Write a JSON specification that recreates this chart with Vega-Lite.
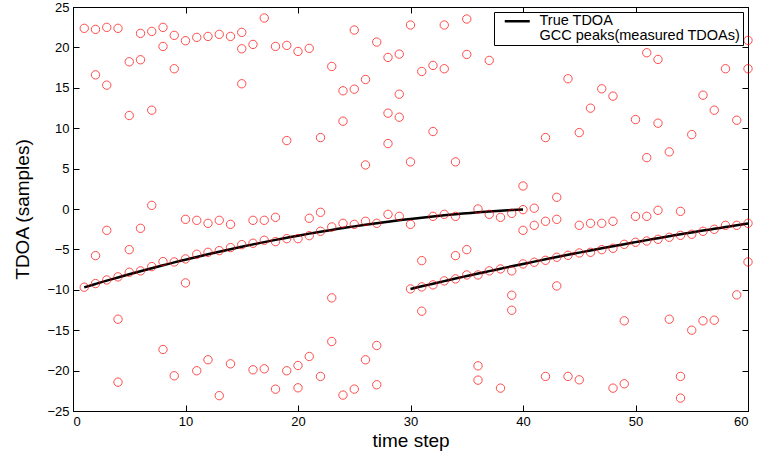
{
  "$schema": "https://vega.github.io/schema/vega-lite/v6.json",
  "width": 675,
  "height": 404,
  "autosize": "none",
  "padding": {"left": 73, "top": 7, "right": 9, "bottom": 45},
  "background": "white",
  "config": {
    "font": "Liberation Sans",
    "view": {"stroke": "black", "strokeWidth": 1},
    "axis": {
      "grid": false,
      "domainColor": "black",
      "tickColor": "black",
      "tickSize": -6,
      "labelColor": "black",
      "labelFont": "Liberation Sans",
      "labelFontSize": 13,
      "titleFont": "Liberation Sans",
      "titleFontWeight": "normal",
      "titleColor": "black"
    }
  },
  "datasets": {
    "truth": [
      {"t": 1, "tdoa": -9.70, "seg": 1}, {"t": 2, "tdoa": -9.28, "seg": 1}, {"t": 3, "tdoa": -8.87, "seg": 1},
      {"t": 4, "tdoa": -8.48, "seg": 1}, {"t": 5, "tdoa": -8.08, "seg": 1}, {"t": 6, "tdoa": -7.70, "seg": 1},
      {"t": 7, "tdoa": -7.33, "seg": 1}, {"t": 8, "tdoa": -6.97, "seg": 1}, {"t": 9, "tdoa": -6.61, "seg": 1},
      {"t": 10, "tdoa": -6.27, "seg": 1}, {"t": 11, "tdoa": -5.93, "seg": 1}, {"t": 12, "tdoa": -5.60, "seg": 1},
      {"t": 13, "tdoa": -5.28, "seg": 1}, {"t": 14, "tdoa": -4.97, "seg": 1}, {"t": 15, "tdoa": -4.67, "seg": 1},
      {"t": 16, "tdoa": -4.38, "seg": 1}, {"t": 17, "tdoa": -4.10, "seg": 1}, {"t": 18, "tdoa": -3.82, "seg": 1},
      {"t": 19, "tdoa": -3.56, "seg": 1}, {"t": 20, "tdoa": -3.30, "seg": 1}, {"t": 21, "tdoa": -3.05, "seg": 1},
      {"t": 22, "tdoa": -2.81, "seg": 1}, {"t": 23, "tdoa": -2.59, "seg": 1}, {"t": 24, "tdoa": -2.36, "seg": 1},
      {"t": 25, "tdoa": -2.15, "seg": 1}, {"t": 26, "tdoa": -1.95, "seg": 1}, {"t": 27, "tdoa": -1.76, "seg": 1},
      {"t": 28, "tdoa": -1.57, "seg": 1}, {"t": 29, "tdoa": -1.40, "seg": 1}, {"t": 30, "tdoa": -1.23, "seg": 1},
      {"t": 31, "tdoa": -1.07, "seg": 1}, {"t": 32, "tdoa": -0.92, "seg": 1}, {"t": 33, "tdoa": -0.78, "seg": 1},
      {"t": 34, "tdoa": -0.65, "seg": 1}, {"t": 35, "tdoa": -0.53, "seg": 1}, {"t": 36, "tdoa": -0.41, "seg": 1},
      {"t": 37, "tdoa": -0.31, "seg": 1}, {"t": 38, "tdoa": -0.21, "seg": 1}, {"t": 39, "tdoa": -0.13, "seg": 1},
      {"t": 40, "tdoa": -0.05, "seg": 1},
      {"t": 30, "tdoa": -9.90, "seg": 2}, {"t": 31, "tdoa": -9.57, "seg": 2}, {"t": 32, "tdoa": -9.25, "seg": 2},
      {"t": 33, "tdoa": -8.93, "seg": 2}, {"t": 34, "tdoa": -8.61, "seg": 2}, {"t": 35, "tdoa": -8.30, "seg": 2},
      {"t": 36, "tdoa": -7.99, "seg": 2}, {"t": 37, "tdoa": -7.69, "seg": 2}, {"t": 38, "tdoa": -7.39, "seg": 2},
      {"t": 39, "tdoa": -7.09, "seg": 2}, {"t": 40, "tdoa": -6.80, "seg": 2}, {"t": 41, "tdoa": -6.51, "seg": 2},
      {"t": 42, "tdoa": -6.23, "seg": 2}, {"t": 43, "tdoa": -5.95, "seg": 2}, {"t": 44, "tdoa": -5.67, "seg": 2},
      {"t": 45, "tdoa": -5.40, "seg": 2}, {"t": 46, "tdoa": -5.13, "seg": 2}, {"t": 47, "tdoa": -4.87, "seg": 2},
      {"t": 48, "tdoa": -4.61, "seg": 2}, {"t": 49, "tdoa": -4.35, "seg": 2}, {"t": 50, "tdoa": -4.10, "seg": 2},
      {"t": 51, "tdoa": -3.85, "seg": 2}, {"t": 52, "tdoa": -3.61, "seg": 2}, {"t": 53, "tdoa": -3.37, "seg": 2},
      {"t": 54, "tdoa": -3.13, "seg": 2}, {"t": 55, "tdoa": -2.90, "seg": 2}, {"t": 56, "tdoa": -2.67, "seg": 2},
      {"t": 57, "tdoa": -2.45, "seg": 2}, {"t": 58, "tdoa": -2.23, "seg": 2}, {"t": 59, "tdoa": -2.01, "seg": 2},
      {"t": 60, "tdoa": -1.80, "seg": 2}
    ],
    "peaks": [
      {"t": 1, "tdoa": 22.36}, {"t": 1, "tdoa": -9.68},
      {"t": 2, "tdoa": 22.23}, {"t": 2, "tdoa": 16.6}, {"t": 2, "tdoa": -5.77}, {"t": 2, "tdoa": -9.23},
      {"t": 3, "tdoa": 22.48}, {"t": 3, "tdoa": 15.33}, {"t": 3, "tdoa": -2.64}, {"t": 3, "tdoa": -8.78},
      {"t": 4, "tdoa": 22.36}, {"t": 4, "tdoa": -8.4}, {"t": 4, "tdoa": -13.64}, {"t": 4, "tdoa": -21.43},
      {"t": 5, "tdoa": 18.22}, {"t": 5, "tdoa": 11.57}, {"t": 5, "tdoa": -5.03}, {"t": 5, "tdoa": -7.83},
      {"t": 6, "tdoa": 21.74}, {"t": 6, "tdoa": 18.47}, {"t": 6, "tdoa": -2.39}, {"t": 6, "tdoa": -7.66},
      {"t": 7, "tdoa": 21.98}, {"t": 7, "tdoa": 12.23}, {"t": 7, "tdoa": 0.45}, {"t": 7, "tdoa": -7.13},
      {"t": 8, "tdoa": 22.48}, {"t": 8, "tdoa": 20.12}, {"t": 8, "tdoa": -6.51}, {"t": 8, "tdoa": -17.39},
      {"t": 9, "tdoa": 21.49}, {"t": 9, "tdoa": 17.36}, {"t": 9, "tdoa": -6.55}, {"t": 9, "tdoa": -20.64},
      {"t": 10, "tdoa": 20.83}, {"t": 10, "tdoa": -1.28}, {"t": 10, "tdoa": -6.18}, {"t": 10, "tdoa": -9.15},
      {"t": 11, "tdoa": 21.24}, {"t": 11, "tdoa": -1.4}, {"t": 11, "tdoa": -5.6}, {"t": 11, "tdoa": -20.02},
      {"t": 12, "tdoa": 21.36}, {"t": 12, "tdoa": -1.77}, {"t": 12, "tdoa": -5.36}, {"t": 12, "tdoa": -18.66},
      {"t": 13, "tdoa": 21.61}, {"t": 13, "tdoa": -1.4}, {"t": 13, "tdoa": -5.15}, {"t": 13, "tdoa": -23.1},
      {"t": 14, "tdoa": 21.36}, {"t": 14, "tdoa": -1.9}, {"t": 14, "tdoa": -4.78}, {"t": 14, "tdoa": -19.16},
      {"t": 15, "tdoa": 21.86}, {"t": 15, "tdoa": 19.83}, {"t": 15, "tdoa": 15.5}, {"t": 15, "tdoa": -4.41},
      {"t": 16, "tdoa": 20.37}, {"t": 16, "tdoa": -1.4}, {"t": 16, "tdoa": -4.24}, {"t": 16, "tdoa": -19.9},
      {"t": 17, "tdoa": 23.64}, {"t": 17, "tdoa": -1.4}, {"t": 17, "tdoa": -3.87}, {"t": 17, "tdoa": -19.78},
      {"t": 18, "tdoa": 20.12}, {"t": 18, "tdoa": -1.03}, {"t": 18, "tdoa": -4.04}, {"t": 18, "tdoa": -22.3},
      {"t": 19, "tdoa": 20.25}, {"t": 19, "tdoa": 8.47}, {"t": 19, "tdoa": -3.67}, {"t": 19, "tdoa": -20.02},
      {"t": 20, "tdoa": 19.5}, {"t": 20, "tdoa": -3.67}, {"t": 20, "tdoa": -19.37}, {"t": 20, "tdoa": -22.13},
      {"t": 21, "tdoa": 19.88}, {"t": 21, "tdoa": -1.15}, {"t": 21, "tdoa": -3.3}, {"t": 21, "tdoa": -18.25},
      {"t": 22, "tdoa": 8.84}, {"t": 22, "tdoa": -0.41}, {"t": 22, "tdoa": -2.76}, {"t": 22, "tdoa": -20.72},
      {"t": 23, "tdoa": 17.64}, {"t": 23, "tdoa": -2.22}, {"t": 23, "tdoa": -11.0}, {"t": 23, "tdoa": -16.4},
      {"t": 24, "tdoa": 14.63}, {"t": 24, "tdoa": 10.87}, {"t": 24, "tdoa": -1.77}, {"t": 24, "tdoa": -23.03},
      {"t": 25, "tdoa": 22.15}, {"t": 25, "tdoa": 14.83}, {"t": 25, "tdoa": -1.9}, {"t": 25, "tdoa": -22.29},
      {"t": 26, "tdoa": 16.03}, {"t": 26, "tdoa": 5.45}, {"t": 26, "tdoa": -1.52}, {"t": 26, "tdoa": -18.66},
      {"t": 27, "tdoa": 20.66}, {"t": 27, "tdoa": -1.77}, {"t": 27, "tdoa": -16.89}, {"t": 27, "tdoa": -21.75},
      {"t": 28, "tdoa": 18.76}, {"t": 28, "tdoa": 11.86}, {"t": 28, "tdoa": 8.1}, {"t": 28, "tdoa": -0.66},
      {"t": 29, "tdoa": 19.17}, {"t": 29, "tdoa": 14.21}, {"t": 29, "tdoa": 11.36}, {"t": 29, "tdoa": -0.91},
      {"t": 30, "tdoa": 22.77}, {"t": 30, "tdoa": 5.83}, {"t": 30, "tdoa": -1.9}, {"t": 30, "tdoa": -9.89},
      {"t": 31, "tdoa": 17.02}, {"t": 31, "tdoa": -6.39}, {"t": 31, "tdoa": -9.64}, {"t": 31, "tdoa": -12.65},
      {"t": 32, "tdoa": 17.77}, {"t": 32, "tdoa": 9.59}, {"t": 32, "tdoa": -0.91}, {"t": 32, "tdoa": -9.39},
      {"t": 33, "tdoa": 22.77}, {"t": 33, "tdoa": 17.36}, {"t": 33, "tdoa": -0.66}, {"t": 33, "tdoa": -8.9},
      {"t": 34, "tdoa": 5.83}, {"t": 34, "tdoa": -0.91}, {"t": 34, "tdoa": -5.77}, {"t": 34, "tdoa": -8.65},
      {"t": 35, "tdoa": 23.51}, {"t": 35, "tdoa": 19.13}, {"t": 35, "tdoa": -5.03}, {"t": 35, "tdoa": -8.16},
      {"t": 36, "tdoa": 0.0}, {"t": 36, "tdoa": -8.16}, {"t": 36, "tdoa": -19.41}, {"t": 36, "tdoa": -21.18},
      {"t": 37, "tdoa": 18.39}, {"t": 37, "tdoa": -0.66}, {"t": 37, "tdoa": -7.66},
      {"t": 38, "tdoa": -1.03}, {"t": 38, "tdoa": -7.42}, {"t": 38, "tdoa": -22.17},
      {"t": 39, "tdoa": -0.54}, {"t": 39, "tdoa": -7.66}, {"t": 39, "tdoa": -10.67}, {"t": 39, "tdoa": -12.53},
      {"t": 40, "tdoa": 2.85}, {"t": 40, "tdoa": -0.08}, {"t": 40, "tdoa": -2.64}, {"t": 40, "tdoa": -6.8},
      {"t": 41, "tdoa": 0.1}, {"t": 41, "tdoa": -2.02}, {"t": 41, "tdoa": -6.59},
      {"t": 42, "tdoa": 8.84}, {"t": 42, "tdoa": -1.52}, {"t": 42, "tdoa": -6.35}, {"t": 42, "tdoa": -20.72},
      {"t": 43, "tdoa": 1.45}, {"t": 43, "tdoa": -1.28}, {"t": 43, "tdoa": -5.97}, {"t": 43, "tdoa": -9.52},
      {"t": 44, "tdoa": 20.95}, {"t": 44, "tdoa": 16.12}, {"t": 44, "tdoa": -5.73}, {"t": 44, "tdoa": -20.72},
      {"t": 45, "tdoa": 9.46}, {"t": 45, "tdoa": -2.02}, {"t": 45, "tdoa": -5.44}, {"t": 45, "tdoa": -21.14},
      {"t": 46, "tdoa": 12.48}, {"t": 46, "tdoa": -1.77}, {"t": 46, "tdoa": -5.36},
      {"t": 47, "tdoa": 14.88}, {"t": 47, "tdoa": -1.77}, {"t": 47, "tdoa": -5.03},
      {"t": 48, "tdoa": 13.97}, {"t": 48, "tdoa": -1.52}, {"t": 48, "tdoa": -4.86}, {"t": 48, "tdoa": -22.17},
      {"t": 49, "tdoa": -4.37}, {"t": 49, "tdoa": -13.84}, {"t": 49, "tdoa": -21.63},
      {"t": 50, "tdoa": 11.07}, {"t": 50, "tdoa": -0.91}, {"t": 50, "tdoa": -4.12},
      {"t": 51, "tdoa": 19.34}, {"t": 51, "tdoa": 6.36}, {"t": 51, "tdoa": -0.91}, {"t": 51, "tdoa": -3.96},
      {"t": 52, "tdoa": 18.51}, {"t": 52, "tdoa": 10.62}, {"t": 52, "tdoa": -0.16}, {"t": 52, "tdoa": -3.75},
      {"t": 53, "tdoa": 20.74}, {"t": 53, "tdoa": 7.07}, {"t": 53, "tdoa": -3.5}, {"t": 53, "tdoa": -13.64},
      {"t": 54, "tdoa": -0.29}, {"t": 54, "tdoa": -3.26}, {"t": 54, "tdoa": -20.72}, {"t": 54, "tdoa": -23.4},
      {"t": 55, "tdoa": 9.21}, {"t": 55, "tdoa": -3.13}, {"t": 55, "tdoa": -15.0},
      {"t": 56, "tdoa": 14.09}, {"t": 56, "tdoa": -2.76}, {"t": 56, "tdoa": -13.84},
      {"t": 57, "tdoa": 12.23}, {"t": 57, "tdoa": -2.51}, {"t": 57, "tdoa": -13.76},
      {"t": 58, "tdoa": 17.36}, {"t": 58, "tdoa": -2.02},
      {"t": 59, "tdoa": 10.99}, {"t": 59, "tdoa": -2.02}, {"t": 59, "tdoa": -10.63},
      {"t": 60, "tdoa": 20.87}, {"t": 60, "tdoa": 17.36}, {"t": 60, "tdoa": -1.77}, {"t": 60, "tdoa": -6.55}
    ]
  },
  "resolve": {"axis": {"x": "independent", "y": "independent"}},
  "layer": [
    {
      "data": {"name": "truth"},
      "mark": {"type": "line", "strokeWidth": 2.5, "interpolate": "monotone"},
      "encoding": {
        "x": {"field": "t", "type": "quantitative", "scale": {"domain": [0, 60], "nice": false},
              "axis": {"orient": "bottom", "values": [0, 10, 20, 30, 40, 50, 60], "title": "time step", "titleFontSize": 19, "labelPadding": 10, "titleY": 35, "titleBaseline": "alphabetic"}},
        "y": {"field": "tdoa", "type": "quantitative", "scale": {"domain": [-25, 25], "nice": false},
              "axis": {"orient": "left", "values": [-25, -20, -15, -10, -5, 0, 5, 10, 15, 20, 25], "title": "TDOA (samples)", "titleFontSize": 19, "labelPadding": 10, "titleX": -51, "titleBaseline": "middle"}},
        "detail": {"field": "seg"},
        "color": {"datum": "True TDOA", "type": "nominal",
          "scale": {"domain": ["True TDOA", "GCC peaks(measured TDOAs)"], "range": ["black", "red"]},
          "legend": {
            "title": null, "orient": "top-right", "offset": 5,
            "symbolType": "M-2.5,0H2.5", "symbolSize": 100, "symbolStrokeWidth": 2.5,
            "symbolOffset": 14, "labelOffset": 15, "labelLimit": 0,
            "labelFont": "Liberation Sans", "labelFontSize": 14.5, "labelColor": "black",
            "strokeColor": "black", "fillColor": "white", "padding": 2, "rowPadding": 0,
            "encode": {"symbols": {"update": {"opacity": [{"test": "datum.value !== 'True TDOA'", "value": 0}, {"value": 1}]}}}
          }}
      }
    },
    {
      "data": {"name": "peaks"},
      "mark": {"type": "point", "shape": "circle", "filled": false, "size": 70, "strokeWidth": 1},
      "encoding": {
        "x": {"field": "t", "type": "quantitative", "scale": {"domain": [0, 60], "nice": false},
              "axis": {"orient": "top", "values": [0, 10, 20, 30, 40, 50, 60], "labels": false, "title": null}},
        "y": {"field": "tdoa", "type": "quantitative", "scale": {"domain": [-25, 25], "nice": false},
              "axis": {"orient": "right", "values": [-25, -20, -15, -10, -5, 0, 5, 10, 15, 20, 25], "labels": false, "title": null}},
        "color": {"datum": "GCC peaks(measured TDOAs)", "type": "nominal"}
      }
    }
  ]
}
